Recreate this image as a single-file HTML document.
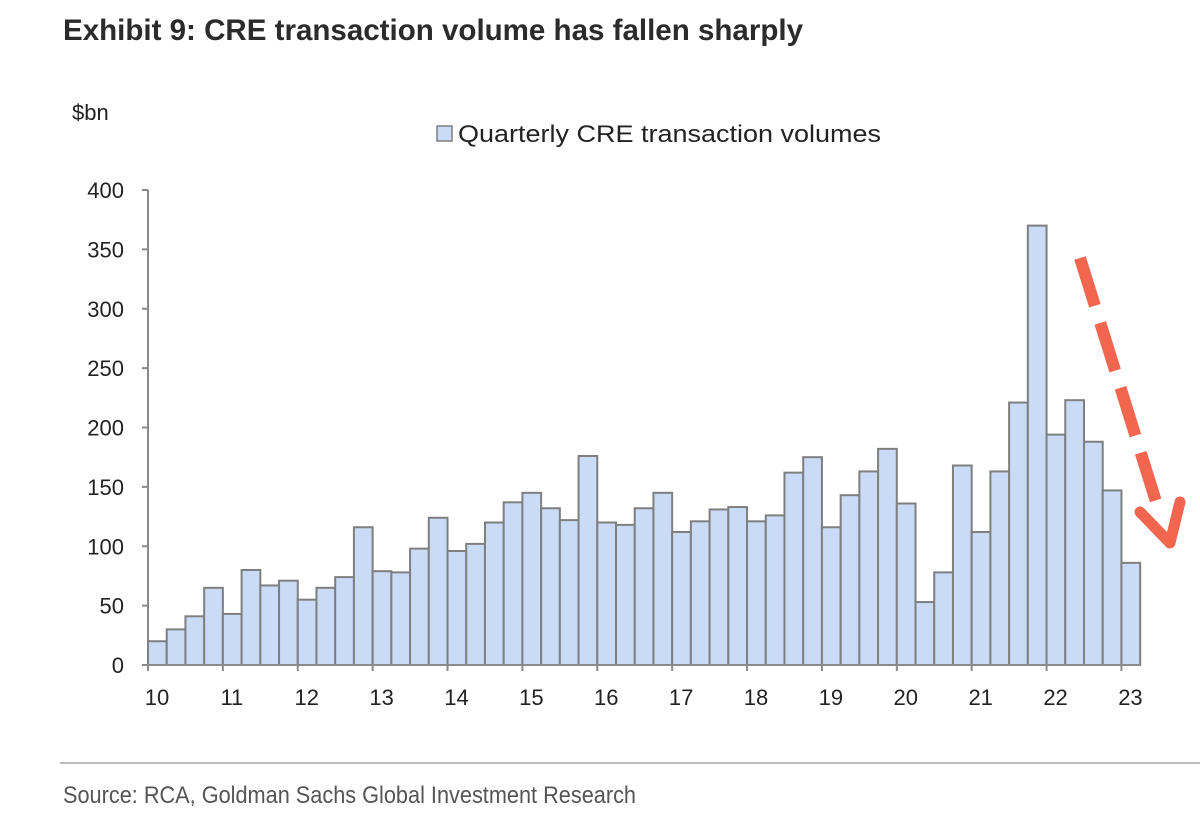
<!DOCTYPE html>
<html><head><meta charset="utf-8"><style>
html,body{margin:0;padding:0;background:#fff;width:1200px;height:836px;overflow:hidden}
svg{display:block}
</style></head><body>
<svg id="chart" width="1200" height="836" xmlns="http://www.w3.org/2000/svg">
<text x="63" y="40" font-family="Liberation Sans Narrow, Liberation Sans, sans-serif" font-weight="bold" font-size="30" fill="#2b2b2b" textLength="740" lengthAdjust="spacingAndGlyphs">Exhibit 9: CRE transaction volume has fallen sharply</text>
<text x="72" y="120" font-family="Liberation Sans, sans-serif" font-size="22" fill="#222">$bn</text>
<g>
<rect x="437" y="126" width="15" height="15" fill="#c9dbf7" stroke="#7f7f7f" stroke-width="1.5"/>
<text x="458" y="142" font-family="Liberation Sans Narrow, Liberation Sans, sans-serif" font-size="24" fill="#222" textLength="423" lengthAdjust="spacingAndGlyphs">Quarterly CRE transaction volumes</text>
</g>
<g id="yaxis"></g>
<g id="bars"></g>
<g id="xaxis"></g>
<g>
<line x1="1080" y1="258" x2="1158" y2="508" stroke="#f2654f" stroke-width="12" stroke-dasharray="50,18"/>
<polyline points="1140,512 1170,543 1180,502" fill="none" stroke="#f2654f" stroke-width="11" stroke-linecap="round" stroke-linejoin="round"/>
</g>
<line x1="60" y1="763" x2="1200" y2="763" stroke="#bbb" stroke-width="2"/>
<text x="63" y="803" font-family="Liberation Sans Narrow, Liberation Sans, sans-serif" font-size="24" fill="#555" textLength="573" lengthAdjust="spacingAndGlyphs">Source: RCA, Goldman Sachs Global Investment Research</text>
</svg>
<script>
const values = [20,30,41,65, 43,80,67,71, 55,65,74,116, 79,78,98,124, 96,102,120,137, 145,132,122,176, 120,118,132,145, 112,121,131,133, 121,126,162,175, 116,143,163,182, 136,53,78,168, 112,163,221,370, 194,223,188,147, 86];
const yTicks = [0,50,100,150,200,250,300,350,400];
const xLabels = ["10","11","12","13","14","15","16","17","18","19","20","21","22","23"];

const NS = "http://www.w3.org/2000/svg";
const x0 = 148, step = 18.72, y0 = 665, yMax = 400, yTop = 190;
function yScale(v){ return y0 - (v / yMax) * (y0 - yTop); }
function xScale(i){ return x0 + i * step; }
function mk(tag, attrs, parent){ const e = document.createElementNS(NS, tag); for (const k in attrs) e.setAttribute(k, attrs[k]); parent.appendChild(e); return e; }

const yaxis = document.getElementById('yaxis');
const yl = mk('line', {x1:x0, y1:yTop, x2:x0, y2:y0, stroke:'#8a8a8a', 'stroke-width':2}, yaxis);


yTicks.forEach(t => {
  const y = yScale(t);
  const tk = mk('line', {x1:x0-6, y1:y, x2:x0, y2:y, stroke:'#8a8a8a', 'stroke-width':2}, yaxis);
  
  
  const tx = mk('text', {x:124, y:y+8, 'text-anchor':'end', 'font-family':'Liberation Sans, sans-serif', 'font-size':22, fill:'#222'}, yaxis);
  tx.textContent = t;
  
  
});

const bars = document.getElementById('bars');
values.forEach((v, i) => {
  const y = yScale(v);
  const r = mk('rect', {x:xScale(i), y:y, width:step, height:y0 - y, fill:'#c9dbf7', stroke:'#7f7f7f', 'stroke-width':2}, bars);
  
  
});

const xaxis = document.getElementById('xaxis');
const xlEnd = xScale(values.length);
const xl = mk('line', {x1:x0-6, y1:y0, x2:xlEnd, y2:y0, stroke:'#8a8a8a', 'stroke-width':2}, xaxis);


xLabels.forEach((lab, j) => {
  const x = xScale(j * 4);
  const tk = mk('line', {x1:x, y1:y0, x2:x, y2:y0+6, stroke:'#8a8a8a', 'stroke-width':2}, xaxis);
  
  
  const tx = mk('text', {x:x+9, y:705, 'text-anchor':'middle', 'font-family':'Liberation Sans, sans-serif', 'font-size':22, fill:'#222'}, xaxis);
  tx.textContent = lab;
  
  
});
</script>
</body></html>
